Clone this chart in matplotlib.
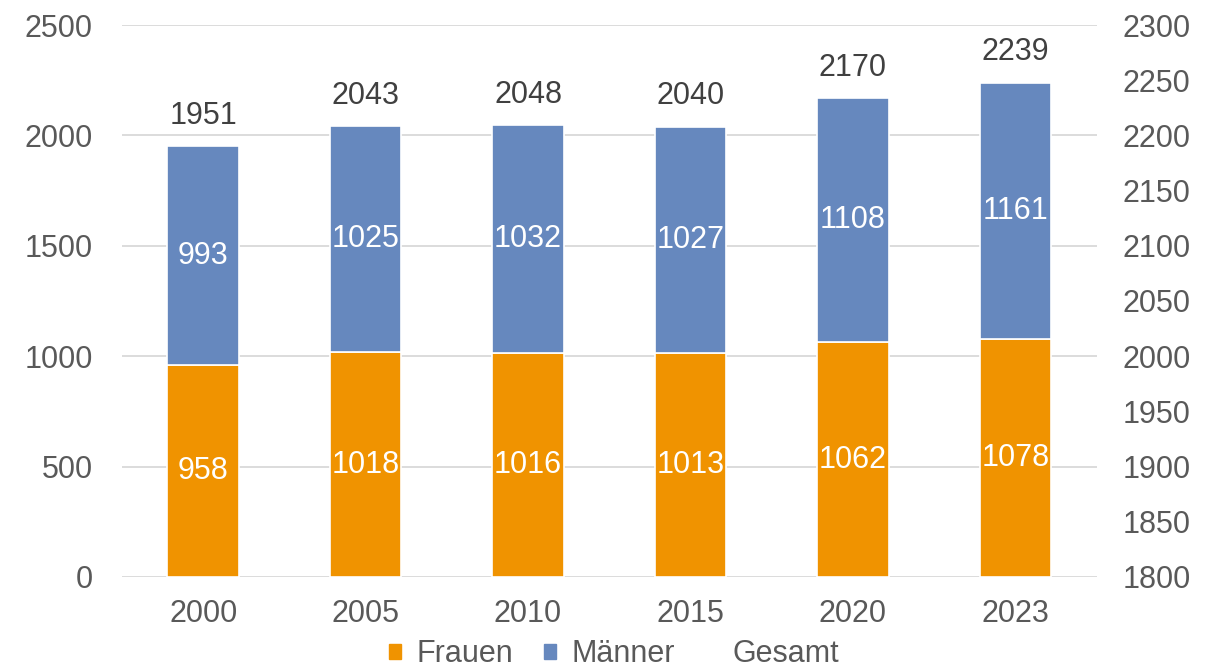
import numpy as np
import matplotlib.pyplot as plt
from matplotlib.patches import Patch
from matplotlib.lines import Line2D

plt.rcParams['font.family'] = ['Liberation Sans', 'DejaVu Sans']

# data
years = ['2000', '2005', '2010', '2015', '2020', '2023']
frauen = [958, 1018, 1016, 1013, 1062, 1078]
maenner = [993, 1025, 1032, 1027, 1108, 1161]
gesamt = [1951, 2043, 2048, 2040, 2170, 2239]

orange = '#F09300'
blue = '#6688BE'
grey = '#595959'

fig = plt.figure(figsize=(12.28, 6.67), dpi=100)
ax = fig.add_axes([0.0993, 0.135, 0.7937, 0.8275])

x = np.arange(len(years))
w = 0.44
b1 = ax.bar(x, frauen, w, color=orange, edgecolor='white', linewidth=1.2, zorder=3)
b2 = ax.bar(x, maenner, w, bottom=frauen, color=blue, edgecolor='white', linewidth=1.2, zorder=3)

# labels inside the segments
for i in range(len(years)):
    ax.text(x[i], frauen[i] / 2, str(frauen[i]), ha='center', va='center',
            color='white', fontsize=22, zorder=4)
    ax.text(x[i], frauen[i] + maenner[i] / 2, str(maenner[i]), ha='center', va='center',
            color='white', fontsize=22, zorder=4)
    ax.annotate(str(gesamt[i]), (x[i], gesamt[i]), xytext=(0, 11), textcoords='offset points',
                ha='center', va='bottom', color='#404040', fontsize=22, zorder=4)

ax.set_xlim(-0.5, len(years) - 0.5)
ax.set_ylim(0, 2500)
ax.set_yticks(np.arange(0, 2501, 500))
ax.set_xticks(x)
ax.set_xticklabels(years)
ax.grid(axis='y', color='#D9D9D9', linewidth=1.3, zorder=0)
ax.set_axisbelow(True)
for s in ax.spines.values():
    s.set_visible(False)
ax.tick_params(axis='both', length=0, labelsize=22, colors=grey)
ax.tick_params(axis='y', pad=21)
ax.tick_params(axis='x', pad=16)

# secondary axis for Gesamt
ax2 = ax.twinx()
ax2.set_ylim(1800, 2300)
ax2.set_yticks(np.arange(1800, 2301, 50))
for s in ax2.spines.values():
    s.set_visible(False)
ax2.tick_params(axis='y', length=0, labelsize=22, colors=grey, pad=19)

handles = [Patch(color=orange), Patch(color=blue), Line2D([], [], color='none')]
leg = fig.legend(handles, ['Frauen', 'Männer', 'Gesamt'], loc='center', bbox_to_anchor=(0.5, 0.019),
                 ncol=3, frameon=False, fontsize=22, handlelength=0.4, handleheight=0.4,
                 handletextpad=0.5, columnspacing=1.0, borderpad=0, borderaxespad=0)
for t in leg.get_texts():
    t.set_color(grey)

fig.savefig('out.png', dpi=100)
